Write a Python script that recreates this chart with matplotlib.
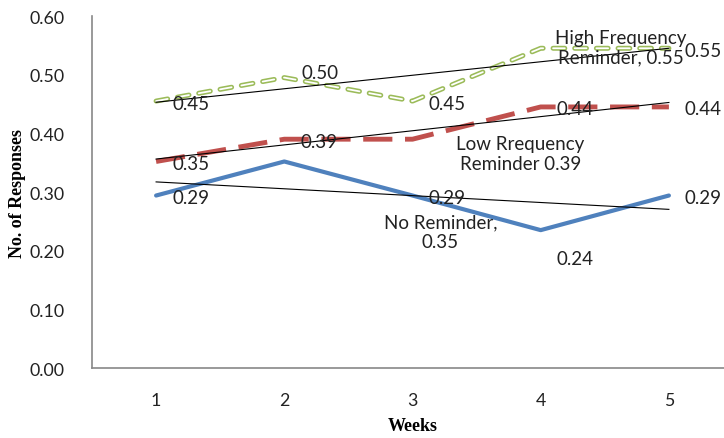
import numpy as np
import matplotlib.pyplot as plt
import matplotlib.patheffects as pe

# weekly response rates
weeks = [1, 2, 3, 4, 5]
high_freq = [0.455, 0.495, 0.455, 0.545, 0.545]
low_freq = [0.352, 0.390, 0.390, 0.445, 0.445]
no_reminder = [0.294, 0.352, 0.294, 0.235, 0.294]

high_labels = ["0.45", "0.50", "0.45", "High Frequency\nReminder, 0.55", "0.55"]
low_labels = ["0.35", "0.39", "Low Rrequency\nReminder 0.39", "0.44", "0.44"]
no_labels = ["0.29", "No Reminder,\n0.35", "0.29", "0.24", "0.29"]

GREEN = '#9BBB59'
RED = '#C0504D'
BLUE = '#4F81BD'
LBL_FONT = 'Lato'

fig = plt.figure(figsize=(7.24, 4.39), dpi=100)
ax = fig.add_axes([92 / 724, 1 - 369 / 439, 641 / 724, 352 / 439])

x = np.array(weeks)

'''series lines'''
ax.plot(x, no_reminder, color=BLUE, lw=3, solid_capstyle='round', zorder=3)
ax.plot(x, low_freq, color=RED, lw=3.5, dashes=(6, 2.6), zorder=3)
g, = ax.plot(x, high_freq, color='white', lw=1.3, dashes=(6.5, 5.5),
             dash_capstyle='round', zorder=3)
g.set_path_effects([pe.Stroke(linewidth=3.6, foreground=GREEN, capstyle='round'),
                    pe.Normal()])

'''linear trendlines'''
for ys in (high_freq, low_freq, no_reminder):
    k, b = np.polyfit(x, ys, 1)
    ax.plot(x, k * x + b, color='black', lw=0.8, zorder=4)

'''data labels (offsets in pixels)'''
def lab(xi, yi, s, dx=16, dy=0, ha='left'):
    ax.annotate(s, (xi, yi), xytext=(dx, dy), textcoords='offset pixels',
                ha=ha, va='center', fontsize=13.5, family=LBL_FONT,
                color='#222222', zorder=5, linespacing=1.2)

for i, s in enumerate(high_labels):
    if i == 3:
        lab(weeks[i], high_freq[i], s, dx=80, dy=1, ha='center')
    elif i == 1:
        lab(weeks[i], high_freq[i], s, dx=17, dy=5)
    else:
        lab(weeks[i], high_freq[i], s, dx=16, dy=-2)

for i, s in enumerate(low_labels):
    if i == 2:
        lab(weeks[i], low_freq[i], s, dx=108, dy=-14, ha='center')
    else:
        lab(weeks[i], low_freq[i], s, dx=16, dy=-2)

for i, s in enumerate(no_labels):
    if i == 1:
        lab(weeks[i], no_reminder[i], s, dx=156, dy=-70, ha='center')
    elif i == 3:
        lab(weeks[i], no_reminder[i], s, dx=16, dy=-28)
    else:
        lab(weeks[i], no_reminder[i], s, dx=16, dy=-2)

ax.set_xlim(0.5, 5.5)
ax.set_ylim(0, 0.6)
ax.set_xticks(weeks)
ax.set_yticks(np.arange(0, 0.61, 0.1))
ax.set_yticklabels(['%.2f' % v for v in np.arange(0, 0.61, 0.1)])
ax.tick_params(length=0, labelsize=12.8, colors='#222222')
ax.tick_params(axis='y', pad=20)
ax.tick_params(axis='x', pad=17)
for t in ax.get_xticklabels() + ax.get_yticklabels():
    t.set_family(LBL_FONT)

for s in ('top', 'right'):
    ax.spines[s].set_visible(False)
for s in ('left', 'bottom'):
    ax.spines[s].set_color('#888888')
    ax.spines[s].set_linewidth(1.2)

ax.set_xlabel('Weeks', family='Liberation Serif', weight='bold', fontsize=13)
ax.set_ylabel('No. of Responses', family='Liberation Serif', weight='bold', fontsize=13)
ax.xaxis.set_label_coords(0.5, (369 - 418) / 352)
ax.yaxis.set_label_coords((26 - 92) / 641, 0.5)

fig.savefig('out.png', dpi=100)
